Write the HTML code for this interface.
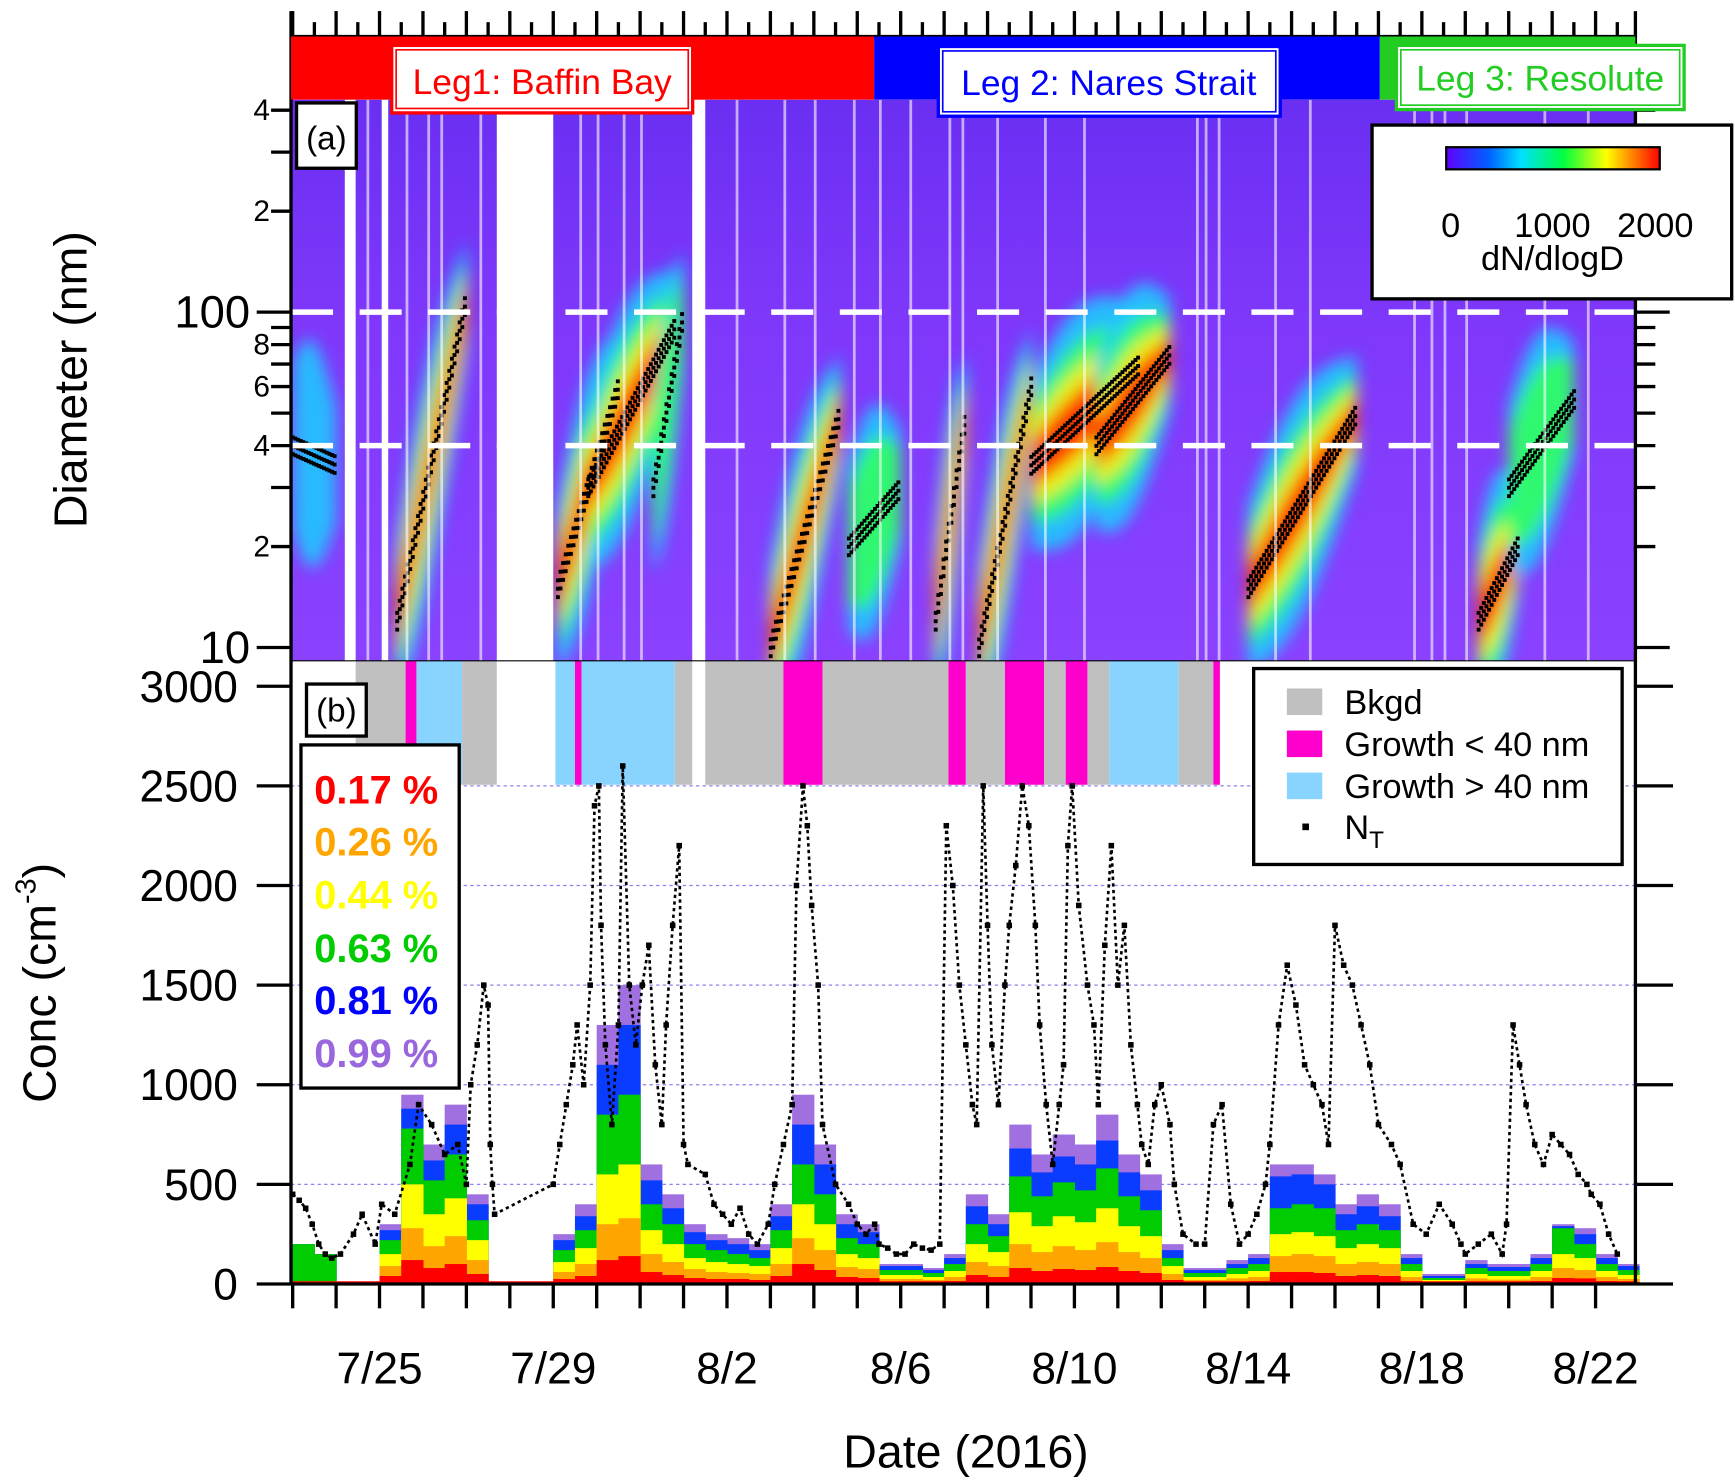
<!DOCTYPE html>
<html><head><meta charset="utf-8"><style>
html,body{margin:0;padding:0;background:#fff}
svg{display:block}
text{font-family:"Liberation Sans",Arial,sans-serif}
</style></head><body>
<svg id="chart" xmlns="http://www.w3.org/2000/svg" width="1735" height="1481" viewBox="0 0 1568 1338" preserveAspectRatio="none">
<defs>
<linearGradient id="bgGrad" x1="0" y1="0" x2="0" y2="1">
<stop offset="0" stop-color="#6a2ff2"/><stop offset="0.4" stop-color="#7f38fb"/><stop offset="1" stop-color="#8a42ff"/>
</linearGradient>
<filter id="blur" x="-20%" y="-20%" width="140%" height="140%"><feGaussianBlur stdDeviation="7"/></filter>
<clipPath id="specClip"><rect x="263" y="90" width="1215" height="507"/></clipPath>
<linearGradient id="cbGrad" x1="0" x2="1" y1="0" y2="0">
<stop offset="0" stop-color="#6000ff"/><stop offset="0.2" stop-color="#0060ff"/><stop offset="0.35" stop-color="#00e0ff"/><stop offset="0.55" stop-color="#00ff40"/><stop offset="0.75" stop-color="#ffff00"/><stop offset="1" stop-color="#ff0000"/>
</linearGradient>
</defs>
<g id="spec" clip-path="url(#specClip)"></g>
<g id="specOver"></g>
<g id="panelB"></g>
<g id="axes"></g>
<g id="legs">
<rect x="263" y="33" width="527" height="57" fill="#ff0000"/>
<rect x="790" y="33" width="457" height="57" fill="#0000ff"/>
<rect x="1247" y="33" width="231" height="57" fill="#22cc22"/>
<rect x="354" y="41" width="272" height="61" fill="#fff" stroke="#ff0000" stroke-width="3"/>
<rect x="358" y="45" width="264" height="53" fill="none" stroke="#ff0000" stroke-width="1.5"/>
<text x="490" y="85" font-size="32" fill="#ff0000" text-anchor="middle">Leg1: Baffin Bay</text>
<rect x="848" y="42" width="309" height="63" fill="#fff" stroke="#0000ff" stroke-width="3"/>
<rect x="852" y="46" width="301" height="55" fill="none" stroke="#0000ff" stroke-width="1.5"/>
<text x="1002" y="86" font-size="32" fill="#0000ff" text-anchor="middle">Leg 2: Nares Strait</text>
<rect x="1262" y="41" width="260" height="58" fill="#fff" stroke="#22cc22" stroke-width="3"/>
<rect x="1266" y="45" width="252" height="50" fill="none" stroke="#22cc22" stroke-width="1.5"/>
<text x="1392" y="82" font-size="32" fill="#22cc22" text-anchor="middle">Leg 3: Resolute</text>
</g>
<g id="labels">
<rect x="268" y="93" width="54" height="59" fill="#fff" stroke="#000" stroke-width="3"/>
<text x="295" y="135" font-size="30" text-anchor="middle">(a)</text>
<rect x="277" y="618" width="54" height="47" fill="#fff" stroke="#000" stroke-width="3"/>
<text x="304" y="652" font-size="30" text-anchor="middle">(b)</text>
<g>
<rect x="1240" y="113" width="325" height="157" fill="#fff" stroke="#000" stroke-width="3"/>
<rect x="1307" y="133" width="193" height="20" fill="url(#cbGrad)" stroke="#000" stroke-width="2"/>
<text x="1311" y="214" font-size="31" text-anchor="middle">0</text>
<text x="1403" y="214" font-size="31" text-anchor="middle">1000</text>
<text x="1496" y="214" font-size="31" text-anchor="middle">2000</text>
<text x="1403" y="244" font-size="31" text-anchor="middle">dN/dlogD</text>
</g>
<g>
<rect x="1133" y="604" width="333" height="177" fill="#fff" stroke="#000" stroke-width="3"/>
<rect x="1163" y="622" width="32" height="24" fill="#c0c0c0"/>
<text x="1215" y="645" font-size="31">Bkgd</text>
<rect x="1163" y="660" width="32" height="24" fill="#ff00cc"/>
<text x="1215" y="683" font-size="31">Growth &lt; 40 nm</text>
<rect x="1163" y="698" width="32" height="24" fill="#88d4ff"/>
<text x="1215" y="721" font-size="31">Growth &gt; 40 nm</text>
<rect x="1177" y="744" width="6" height="6" fill="#000"/>
<text x="1215" y="758" font-size="31">N<tspan font-size="22" dy="8">T</tspan></text>
</g>
<g font-weight="bold" font-size="36">
<rect x="272" y="673" width="143" height="310" fill="#fff" stroke="#000" stroke-width="3"/>
<text x="284" y="726" fill="#ff0000">0.17 %</text>
<text x="284" y="773" fill="#ffa500">0.26 %</text>
<text x="284" y="821" fill="#ffff00">0.44 %</text>
<text x="284" y="869" fill="#00cc00">0.63 %</text>
<text x="284" y="916" fill="#0000ff">0.81 %</text>
<text x="284" y="964" fill="#9966dd">0.99 %</text>
</g>
<text transform="translate(78,343) rotate(-90)" font-size="42" text-anchor="middle">Diameter (nm)</text>
<text transform="translate(50,888) rotate(-90)" font-size="42" text-anchor="middle">Conc (cm<tspan font-size="26" dy="-18">-3</tspan><tspan dy="18">)</tspan></text>
<text x="873" y="1326" font-size="42" text-anchor="middle">Date (2016)</text>
</g>
</svg>
<script>
// ---- data ----
const dateTickDays = [2,6,10,14,18,22,26,30];
const dateTickLabels = ["7/25","7/29","8/2","8/6","8/10","8/14","8/18","8/22"];
const concTicks = [0,500,1000,1500,2000,2500,3000];
const diamTickVals = [10,20,40,60,80,100,200,400];
const diamTickLabels = ["10","2","4","6","8","100","2","4"];
// growth events in spectrogram
const evStart = [0,2.4,6.1,6.8,8.3,11.0,12.8,14.8,15.8,17.0,18.5,22.0,27.3,28.0];
const evEnd   = [1.0,4.0,7.5,8.8,9.0,12.6,14.0,15.5,17.0,19.5,20.2,24.5,28.2,29.5];
const evD0    = [40,12,15,30,30,10,20,12,10,35,40,15,12,30];
const evD1    = [35,110,60,90,100,50,30,50,60,70,75,50,20,55];
const evInt   = [0.3,1.0,1.0,1.0,0.5,0.9,0.4,0.9,1.0,1.0,0.8,1.0,1.0,0.4];
// data gaps (days)
const gapStart = [1.2,2.05,4.7,9.2];
const gapEnd   = [1.45,2.2,6.0,9.5];
const thinGaps = [1.7,2.6,3.1,3.4,4.3,6.6,7.0,7.6,8.0,10.2,11.3,12.0,12.9,13.5,14.2,15.1,15.4,16.2,17.3,18.2,20.8,21.0,21.3,22.6,23.4,25.8,26.2,26.5,27.0,28.8,29.8];
// event classification band
const bandStart = [1.45,2.6,2.85,3.9,6.05,6.5,6.65,8.8,9.5,11.3,12.2,15.1,15.5,16.4,17.3,17.8,18.3,18.8,20.4,21.2];
const bandEnd   = [2.6,2.85,3.9,4.7,6.5,6.65,8.8,9.2,11.3,12.2,15.1,15.5,16.4,17.3,17.8,18.3,18.8,20.4,21.2,21.35];
const bandType  = ["b","g","l","b","l","g","l","b","b","g","b","g","b","g","b","g","b","l","b","g"];
// stacked CCN (cumulative tops), half-day bins
const ccnRed    = [0,0,0,0,40,120,80,100,50,0,0,0,25,40,120,140,60,45,30,25,25,20,40,100,70,35,30,10,10,8,15,45,35,80,65,75,70,85,65,55,20,8,8,12,15,60,60,55,40,45,40,15,5,5,12,10,10,15,30,28,15,10];
const ccnOrange = [0,0,0,0,90,280,190,240,120,0,0,0,60,100,300,330,150,110,75,60,55,50,100,230,170,85,75,25,25,20,35,110,90,200,160,190,170,210,160,130,50,20,20,28,35,140,150,140,100,110,100,35,10,10,28,22,22,35,80,70,35,25];
const ccnYellow = [0,0,0,0,150,500,350,430,220,0,0,0,110,180,550,600,270,200,130,110,100,90,180,400,300,150,130,45,45,35,65,200,160,360,290,340,310,380,290,240,90,35,35,50,65,250,260,240,180,200,180,65,20,20,50,40,40,65,150,130,65,45];
const ccnGreen  = [200,150,0,0,220,780,520,650,320,0,0,0,170,270,850,950,400,300,200,170,150,130,270,600,450,230,200,70,70,55,100,300,240,540,440,510,470,580,440,370,130,55,55,80,100,380,400,380,270,300,270,100,30,30,80,65,65,100,280,200,100,70];
const ccnBlue   = [200,150,0,0,270,880,620,800,400,0,0,0,220,340,1100,1300,520,380,260,220,200,170,340,800,600,300,260,90,90,70,130,390,300,680,560,640,600,720,560,470,170,70,70,100,130,540,550,500,350,390,340,130,40,40,100,85,85,130,290,250,130,90];
const ccnPurple = [200,150,0,0,300,950,700,900,450,0,0,0,250,400,1300,1500,600,450,300,250,230,200,400,950,700,350,300,100,100,80,150,450,350,800,650,750,700,850,650,550,200,80,80,120,150,600,600,550,400,450,400,150,50,50,120,100,100,150,300,280,150,100];
// total number concentration N_T
const ntDay = [0,0.15,0.3,0.45,0.6,0.75,0.9,1.1,1.4,1.6,1.9,2.05,2.35,2.7,2.9,3.2,3.5,3.8,4.0,4.1,4.25,4.4,4.5,4.55,4.6,4.65,6.0,6.15,6.3,6.45,6.55,6.7,6.85,6.95,7.05,7.1,7.2,7.35,7.5,7.6,7.75,7.9,8.05,8.2,8.35,8.5,8.6,8.75,8.9,9.0,9.1,9.5,9.7,9.9,10.1,10.3,10.5,10.7,10.95,11.1,11.3,11.5,11.6,11.75,11.85,11.95,12.1,12.2,12.5,12.8,13.0,13.2,13.4,13.5,13.7,13.9,14.1,14.3,14.5,14.7,14.9,15.05,15.2,15.35,15.5,15.65,15.75,15.9,16.0,16.1,16.25,16.4,16.5,16.65,16.8,16.95,17.1,17.2,17.35,17.5,17.65,17.75,17.85,17.95,18.1,18.3,18.45,18.55,18.7,18.85,19.0,19.15,19.3,19.45,19.55,19.7,19.85,20.0,20.2,20.3,20.5,20.8,21.0,21.2,21.4,21.6,21.8,22.0,22.2,22.4,22.5,22.7,22.9,23.1,23.3,23.5,23.7,23.85,24.0,24.2,24.4,24.6,24.8,25.0,25.3,25.5,25.8,26.1,26.4,26.7,26.9,27.0,27.3,27.6,27.85,27.95,28.1,28.25,28.4,28.6,28.8,29.0,29.2,29.4,29.6,29.8,29.9,30.1,30.3,30.5];
const ntConc = [450,420,380,300,200,150,130,150,250,350,200,400,350,600,900,800,650,700,500,1000,1200,1500,1400,700,500,350,500,700,900,1100,1300,1000,1500,2400,2500,1800,1200,800,1300,2600,1500,1200,1500,1700,1100,800,1300,1800,2200,700,600,550,400,350,300,380,250,200,300,500,700,900,2000,2500,2300,1900,1500,800,500,400,300,250,300,200,180,150,150,200,180,170,200,2300,2000,1500,1200,900,800,2500,1800,1200,900,1500,1800,2100,2500,2300,1800,1300,900,600,900,1100,2200,2500,1900,1500,1300,900,1700,2200,1500,1800,1200,900,700,600,900,1000,800,500,250,200,200,800,900,400,200,250,350,500,700,1300,1600,1400,1100,1000,900,700,1800,1600,1500,1300,1100,800,700,600,300,250,400,300,200,150,200,250,150,300,1300,1100,900,700,600,750,700,650,550,500,450,400,250,150,100];

// ---- scales ----
const NS = "http://www.w3.org/2000/svg";
const X0 = 264.5, PXD = 39.25;
function xd(d){ return X0 + d*PXD; }
function yD(d){ return 282 - (Math.log10(d)-2)*303; }
function yC(c){ return 1160 - c*0.18; }
function mk(parent, tag, attrs){ const e=document.createElementNS(NS,tag); for(const k in attrs) e.setAttribute(k,attrs[k]); parent.appendChild(e); return e; }

const spec = document.getElementById('spec');
const over = document.getElementById('specOver');
const pb = document.getElementById('panelB');
const ax = document.getElementById('axes');

let bg = mk(spec,'rect',{x:263,y:90,width:1215,height:507,fill:'url(#bgGrad)'});


const blobs = mk(spec,'g',{filter:'url(#blur)'});
const layerCol = ['#20c8ff','#30ff60','#ffee00','#ff2000'];
const layerHW = [0.34,0.24,0.16,0.09];
const layerMin = [0,0.4,0.6,0.8];
for(let i=0;i<evStart.length;i++){
  for(let L=0;L<4;L++){
    if(evInt[i] < layerMin[L]) continue;
    const n=12, top=[], bot=[];
    for(let k=0;k<=n;k++){
      const t=k/n, d=evStart[i]+(evEnd[i]-evStart[i])*t;
      const ld=Math.log10(evD0[i])+(Math.log10(evD1[i])-Math.log10(evD0[i]))*t;
      const hw=layerHW[L]*(0.5+0.5*Math.sin(Math.PI*Math.min(1,0.15+t*0.85)));
      top.push(xd(d).toFixed(1)+','+yD(Math.pow(10,ld+hw)).toFixed(1));
      bot.unshift(xd(d).toFixed(1)+','+yD(Math.pow(10,ld-hw)).toFixed(1));
    }
    const p = mk(blobs,'polygon',{points:top.concat(bot).join(' '),fill:layerCol[L],opacity:0.9});
    
    
  }
}
for(let i=0;i<evStart.length;i++){
  for(let d=evStart[i]; d<=evEnd[i]; d+=0.06){
    const t=(d-evStart[i])/(evEnd[i]-evStart[i]);
    const ld=Math.log10(evD0[i])+(Math.log10(evD1[i])-Math.log10(evD0[i]))*t;
    for(let r=-1;r<=1;r++){
      const q = mk(spec,'rect',{x:xd(d)-1.5,y:yD(Math.pow(10,ld+r*0.025))-1.5,width:3.5,height:3.5,fill:'#000'});
      
      
    }
  }
}
for(let i=0;i<gapStart.length;i++){
  const g = mk(spec,'rect',{x:xd(gapStart[i]),y:90,width:xd(gapEnd[i])-xd(gapStart[i]),height:507,fill:'#fff'});
  
  
}
for(const d of thinGaps){
  const g = mk(spec,'rect',{x:xd(d),y:90,width:2.5,height:507,fill:'#fff',opacity:0.6});
  
  
}
for(const v of [100,40]){
  const l = mk(over,'line',{x1:263,x2:1478,y1:yD(v),y2:yD(v),stroke:'#fff','stroke-width':5,'stroke-dasharray':'38 24'});
  
  
}

// ---- panel b ----
const bandCol = {b:'#c0c0c0', g:'#ff00cc', l:'#88d4ff'};
for(let i=0;i<bandStart.length;i++){
  const r = mk(pb,'rect',{x:xd(bandStart[i]),y:597,width:xd(bandEnd[i])-xd(bandStart[i]),height:112,fill:bandCol[bandType[i]]});
  
  
}
for(const c of [500,1000,1500,2000,2500]){
  const l = mk(pb,'line',{x1:263,x2:1478,y1:yC(c),y2:yC(c),stroke:'#8a80f0','stroke-width':1.2,'stroke-dasharray':'3 3'});
  
  
}
const layers = [[ccnPurple,'#a070e0'],[ccnBlue,'#0a3cff'],[ccnGreen,'#00cc00'],[ccnYellow,'#ffff00'],[ccnOrange,'#ffa500'],[ccnRed,'#ff0000']];
const binW = 0.5;
for(const [arr,col] of layers){
  for(let i=0;i<arr.length;i++){
    if(arr[i]<=0) continue;
    const r = mk(pb,'rect',{x:xd(i*binW),y:yC(arr[i]),width:xd((i+1)*binW)-xd(i*binW)+0.5,height:1160-yC(arr[i]),fill:col});
    
    
  }
}
mk(pb,'line',{x1:263,x2:1478,y1:1159,y2:1159,stroke:'#ff0000','stroke-width':3});
let pts = ntDay.map((d,i)=>xd(d).toFixed(1)+','+yC(ntConc[i]).toFixed(1)).join(' ');
const ntl = mk(pb,'polyline',{points:pts,fill:'none',stroke:'#000','stroke-width':2.4,'stroke-dasharray':'3 3'});


for(let i=0;i<ntDay.length;i++){
  if(ntConc[i]>3000) continue;
  const r = mk(pb,'rect',{x:xd(ntDay[i])-2.5,y:yC(ntConc[i])-2.5,width:5,height:5,fill:'#000'});
  
  
}

// ---- axes ----
const st = {stroke:'#000','stroke-width':3};
mk(ax,'line',Object.assign({x1:263,x2:1478,y1:33,y2:33},st));
mk(ax,'line',Object.assign({x1:263,x2:263,y1:10,y2:1160},st));
mk(ax,'line',Object.assign({x1:1478,x2:1478,y1:10,y2:1160},st));
mk(ax,'line',Object.assign({x1:263,x2:1478,y1:1160,y2:1160},st));
mk(ax,'line',Object.assign({x1:263,x2:1478,y1:597,y2:597},{stroke:'#000','stroke-width':1}));
for(let d=0; d<=30.9; d+=0.5){
  const x=xd(d), big = Math.abs(d-Math.round(d))<1e-6;
  mk(ax,'line',Object.assign({x1:x,x2:x,y1:33,y2:big?10:20},st));
  if(big) mk(ax,'line',Object.assign({x1:x,x2:x,y1:1160,y2:1182},st));
}
for(let i=0;i<dateTickDays.length;i++){
  const t = mk(ax,'text',{x:xd(dateTickDays[i]),y:1250,'font-size':40,'text-anchor':'middle'});
  t.textContent = dateTickLabels[i];
  
  
}
const minorD=[20,30,40,50,60,70,80,90,200,300,400];
for(const v of [10,100].concat(minorD)){
  const y=yD(v), L=(v===10||v===100)?31:18;
  mk(ax,'line',Object.assign({x1:263-L,x2:263,y1:y,y2:y},st));
  mk(ax,'line',Object.assign({x1:1478,x2:1478+L,y1:y,y2:y},st));
}
for(let i=0;i<diamTickVals.length;i++){
  const big = diamTickLabels[i].length>1;
  const t = mk(ax,'text',{x:big?226:244,y:yD(diamTickVals[i])+(big?14:9),'font-size':big?41:27,'text-anchor':'end'});
  t.textContent = diamTickLabels[i];
  
  
}
for(const c of concTicks){
  const y=yC(c);
  mk(ax,'line',Object.assign({x1:232,x2:263,y1:y,y2:y},st));
  mk(ax,'line',Object.assign({x1:1478,x2:1512,y1:y,y2:y},st));
  const t = mk(ax,'text',{x:215,y:y+14,'font-size':40,'text-anchor':'end'});
  t.textContent = c;
  
  
}
const svg=document.getElementById('chart');
svg.appendChild(document.getElementById('legs'));
svg.appendChild(document.getElementById('labels'));
</script>
</body></html>
